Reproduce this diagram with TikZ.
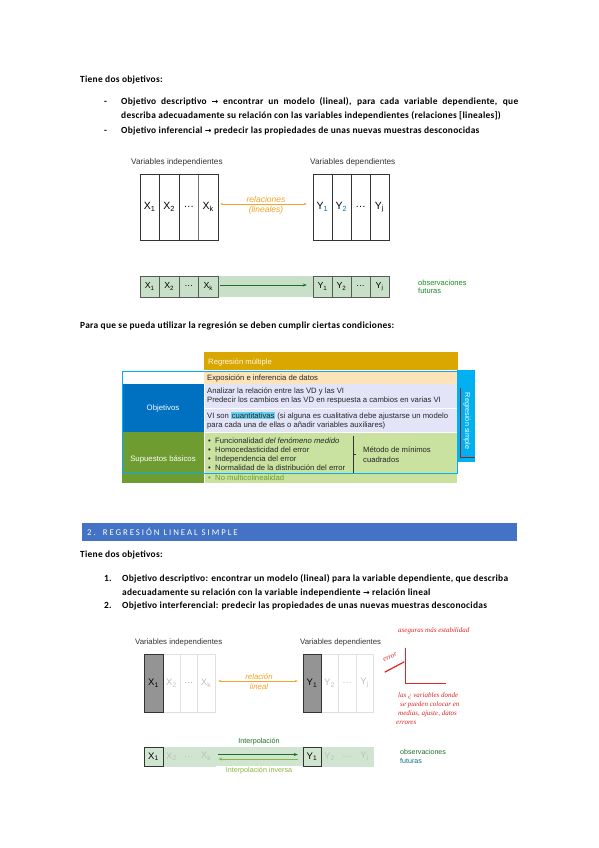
\documentclass[tikz,border=0pt]{standalone}
\usepackage{fontspec}
\setmainfont{Carlito}[LetterSpace=3]
\newfontfamily\arial{Liberation Sans}
\newfontfamily\symf{DejaVu Sans}
\newfontfamily\hand{Liberation Serif}
\newfontfamily\headf{Carlito}[LetterSpace=22]
\usetikzlibrary{arrows.meta}
\definecolor{orangeA}{RGB}{247,162,40}
\definecolor{gdark}{RGB}{30,110,40}
\definecolor{gband}{RGB}{200,224,200}
\definecolor{gband2}{RGB}{208,229,208}
\definecolor{gold}{RGB}{218,166,0}
\definecolor{peach}{RGB}{252,228,184}
\definecolor{tblue}{RGB}{0,112,192}
\definecolor{lav}{RGB}{228,228,248}
\definecolor{tgreen}{RGB}{110,156,48}
\definecolor{lgreen}{RGB}{201,226,160}
\definecolor{cyanA}{RGB}{0,176,240}
\definecolor{hl}{RGB}{100,210,240}
\definecolor{secblue}{RGB}{68,114,196}
\definecolor{redh}{RGB}{225,35,35}
\definecolor{olive}{RGB}{140,180,60}
\definecolor{darkred}{RGB}{150,30,40}
\newcommand{\arr}{{\symf\fontsize{8}{9}\selectfont →}}
\tikzset{
  body/.style={font=\fontsize{9.4}{11}\selectfont\bfseries, inner sep=0, anchor=base west},
  lab/.style={font=\arial\fontsize{8.2}{9}\selectfont, inner sep=0, anchor=base west, text=black!80},
  bigcell/.style={draw=black!80, minimum width=#1, minimum height=66pt, inner sep=0, font=\arial\fontsize{10.5}{12}\selectfont},
  bigcell/.default=19.5pt,
  smallcell/.style={draw=black!65, fill=gband, minimum width=#1, minimum height=21pt, inner sep=0, font=\arial\fontsize{8.8}{10}\selectfont},
  smallcell/.default=19.5pt,
  cellB/.style={draw=black!80, minimum width=#1, minimum height=58pt, inner sep=0, font=\arial\fontsize{9.5}{11}\selectfont},
  faintB/.style={draw=black!12, text=black!25, minimum width=#1, minimum height=58pt, inner sep=0, font=\arial\fontsize{9.5}{11}\selectfont},
  cellC/.style={draw=black!80, fill=gband2, minimum width=#1, minimum height=19pt, inner sep=0, font=\arial\fontsize{9.5}{11}\selectfont},
  faintC/.style={draw=gdark!20, fill=gband2, text=black!25, minimum width=#1, minimum height=19pt, inner sep=0, font=\arial\fontsize{9.5}{11}\selectfont},
  tb/.style={font=\arial\fontsize{7.7}{9}\selectfont, inner sep=0, anchor=base west, text=black!85},
  small/.style={font=\arial\fontsize{7.8}{9}\selectfont, inner sep=0},
  handw/.style={font=\hand\itshape\fontsize{7}{8}\selectfont, text=redh, inner sep=0, anchor=base west},
}
\begin{document}
\begin{tikzpicture}[x=1pt,y=-1pt]
\fill[white] (0,0) rectangle (599,848);
\useasboundingbox (0,0) rectangle (599,848);

% ---------- first text block
\node[body] (t1) at (80,83) {Tiene dos objetivos:};
\node[body] (d1) at (104,105) {-};
\node[body] (l1) at (121,105) {\makebox[397pt][s]{Objetivo descriptivo \arr\ encontrar un modelo (lineal), para cada variable dependiente, que}};
\node[body] (l2) at (121,119) {describa adecuadamente su relación con las variables independientes (relaciones [lineales])};
\node[body] (d2) at (104,134) {-};
\node[body] (l3) at (121,134) {Objetivo inferencial \arr\ predecir las propiedades de unas nuevas muestras desconocidas};

% ---------- diagram 1
\node[lab] (vi1) at (131,164) {Variables independientes};
\node[lab] (vd1) at (310,164) {Variables dependientes};
\node[bigcell, draw=black!30] (a3) at (188.75,207) {\dots};
\node[bigcell] (a1) at (149.75,207) {X\textsubscript{1}};
\node[bigcell] (a2) at (169.25,207) {X\textsubscript{2}};
\node[bigcell, draw=black!55] (a4) at (208.25,207) {X\textsubscript{k}};
\draw[black!80] (a1.north west) rectangle (a4.south east);
\node[bigcell=19pt, draw=black!40] (b3) at (360.5,207) {\dots};
\node[bigcell=19pt] (b1) at (322.5,207) {Y\textsubscript{\color{tblue}1}};
\node[bigcell=19pt] (b2) at (341.5,207) {Y\textsubscript{\color{tblue}2}};
\node[bigcell=19pt] (b4) at (379.5,207) {Y\textsubscript{j}};
\draw[black!80] (b1.north west) rectangle (b4.south east);
\draw[{Stealth[length=3pt]}-{Stealth[length=3pt]}, orangeA, line width=0.6, shorten <=2pt, shorten >=6pt] ([yshift=3pt]a4.east) -- ([yshift=3pt]b1.west);
\node[small, text=orangeA, font=\arial\itshape\fontsize{8.5}{9}\selectfont] (rel1) at (266,199) {relaciones};
\node[small, text=orangeA, font=\arial\itshape\fontsize{8.5}{9}\selectfont] (rel2) at (266,210) {(lineales)};

% row 2
\fill[gband] (218,276) rectangle (313,297);
\node[smallcell] (c1) at (149.75,286.5) {X\textsubscript{1}};
\node[smallcell] (c2) at (169.25,286.5) {X\textsubscript{2}};
\node[smallcell] (c3) at (188.75,286.5) {\dots};
\node[smallcell] (c4) at (208.25,286.5) {X\textsubscript{k}};
\node[smallcell=19pt] (e1) at (322.5,286.5) {Y\textsubscript{1}};
\node[smallcell=19pt] (e2) at (341.5,286.5) {Y\textsubscript{2}};
\node[smallcell=19pt] (e3) at (360.5,286.5) {\dots};
\node[smallcell=19pt] (e4) at (379.5,286.5) {Y\textsubscript{j}};
\draw[-{Stealth[length=4pt]}, gdark, line width=0.6, shorten <=2pt, shorten >=6pt] ([yshift=1.5pt]c4.east) -- ([yshift=1.5pt]e1.west);
\node[small, anchor=base west, text=gdark!80!green, font=\arial\fontsize{7.5}{8}\selectfont] (obs1) at (418,285) {observaciones};
\node[small, anchor=base west, text=gdark!80!green, font=\arial\fontsize{7.5}{8}\selectfont] (fut1) at (418,293.5) {futuras};

% ---------- condiciones
\node[body] (p1) at (80,328) {Para que se pueda utilizar la regresión se deben cumplir ciertas condiciones:};

% ---------- table
\fill[gold] (204,352) rectangle (458,370);
\node[tb, text=white!92!gold] (rm) at (208,364) {Regresión múltiple};
\fill[cyanA] (457,370) rectangle (475,462);
\draw[darkred, line width=0.5] (460,388) -- (460,457) -- (475,457);
\node[small, rotate=-90, text=white, font=\arial\fontsize{7.3}{8}\selectfont] (rs) at (467,421) {Regresión simple};
\fill[peach] (204,371) rectangle (457,384);
\node[tb] (ex) at (207,380.5) {Exposición e inferencia de datos};
\fill[tblue] (122,384) rectangle (204,432);
\node[small, text=white] (obj) at (163,408) {Objetivos};
\fill[lav] (204,384) rectangle (457,432);
\draw[white, line width=0.8] (204,408) -- (457,408);
\node[tb] (o1) at (207,393.5) {Analizar la relación entre las VD y las VI};
\node[tb] (o2) at (207,402.5) {Predecir los cambios en las VD en respuesta a cambios en varias VI};
\node[tb] (o3) at (207,418.5) {VI son {\setlength{\fboxsep}{0.6pt}\colorbox{hl}{cuantitativas}} (si alguna es cualitativa debe ajustarse un modelo};
\node[tb] (o4) at (207,427.5) {para cada una de ellas o añadir variables auxiliares)};
\fill[tgreen] (122,432) rectangle (204,483);
\node[small, text=white] (sb) at (163,459) {Supuestos básicos};
\fill[lgreen] (204,432) rectangle (457,483);
\draw[white, line width=0.8] (204,384) -- (204,483);
\draw[white, line width=0.8] (204,432) -- (457,432);
\foreach \yy/\tt in {443.5/{Funcionalidad \textit{del fenómeno medido}},452.5/{Homocedasticidad del error},461.5/{Independencia del error},470.5/{Normalidad de la distribución del error}}{
  \node[tb] at (208,\yy) {•};
  \node[tb] at (215,\yy) {\tt};
}
\node[tb, text=tgreen] (nb) at (208,480) {•};
\node[tb, text=tgreen] (nm) at (215,480) {No multicolinealidad};
\draw[black!80, line width=0.6] (353,436) -- (353,473);
\draw[black!80, line width=0.6] (353,454) -- (356,454);
\node[tb] (mm1) at (363,452.5) {Método de mínimos};
\node[tb] (mm2) at (363,462) {cuadrados};
\draw[cyanA, line width=0.9] (122,371) rectangle (457,473);

% ---------- section header
\fill[secblue] (82,523) rectangle (517,541);
\node[inner sep=0, anchor=base west, text=white, font=\headf\fontsize{8.8}{10}\selectfont] (sec) at (87,535.5) {2.\hspace{7pt}REGRESIÓN LINEAL SIMPLE};

\node[body] (t2) at (80,557) {Tiene dos objetivos:};
\node[body] (n1) at (104,581) {1.};
\node[body] (m1) at (122,581) {Objetivo descriptivo: encontrar un modelo (lineal) para la variable dependiente, que describa};
\node[body] (m2) at (122,595) {adecuadamente su relación con la variable independiente \arr\ relación lineal};
\node[body] (n2) at (104,608) {2.};
\node[body] (m3) at (122,608) {Objetivo interferencial: predecir las propiedades de unas nuevas muestras desconocidas};

% ---------- diagram 2
\node[lab, font=\arial\fontsize{7.8}{9}\selectfont] (vi2) at (135,644) {Variables independientes};
\node[lab, font=\arial\fontsize{7.8}{9}\selectfont] (vd2) at (300,644) {Variables dependientes};
\node[faintB=17pt] (g2) at (171.5,683) {X\textsubscript{2}};
\node[faintB=17pt] (g3) at (188.5,683) {\dots};
\node[faintB=18pt] (g4) at (206,683) {X\textsubscript{k}};
\node[cellB=19pt, fill=black!42] (g1) at (153.5,683) {X\textsubscript{1}};
\node[faintB=17pt] (h2) at (329.5,683) {Y\textsubscript{2}};
\node[faintB=18pt] (h3) at (347,683) {\dots};
\node[faintB=17pt] (h4) at (364.5,683) {Y\textsubscript{j}};
\node[cellB=18pt, fill=black!42] (h1) at (312,683) {Y\textsubscript{1}};
\draw[{Stealth[length=3pt]}-{Stealth[length=3pt]}, orangeA, line width=0.6, shorten <=3pt, shorten >=5pt] ([yshift=2pt]g4.east) -- ([yshift=2pt]h1.west);
\node[small, text=orangeA, font=\arial\itshape\fontsize{7.8}{8}\selectfont] (rl1) at (259,677) {relación};
\node[small, text=orangeA, font=\arial\itshape\fontsize{7.8}{8}\selectfont] (rl2) at (259,687) {lineal};

\fill[gband2] (144,747) rectangle (373,766);
\node[faintC=17pt] (k2) at (171.5,756.5) {X\textsubscript{2}};
\node[faintC=17pt] (k3) at (188.5,756.5) {\dots};
\node[faintC=18pt] (k4) at (206,756.5) {X\textsubscript{k}};
\node[cellC=19pt] (k1) at (153.5,756.5) {X\textsubscript{1}};
\node[faintC=17pt] (q2) at (329.5,756.5) {Y\textsubscript{2}};
\node[faintC=18pt] (q3) at (347,756.5) {\dots};
\node[faintC=17pt] (q4) at (364.5,756.5) {Y\textsubscript{j}};
\node[cellC=18pt] (q1) at (312,756.5) {Y\textsubscript{1}};
\draw[-{Stealth[length=4pt]}, gdark, line width=0.7, shorten <=3pt, shorten >=5pt] ([yshift=2pt]k4.east) -- ([yshift=2pt]q1.west);
\draw[-{Stealth[length=4pt]}, olive, line width=0.7, shorten <=5pt, shorten >=3pt] ([yshift=-2.5pt]q1.west) -- ([yshift=-2.5pt]k4.east);
\node[small, text=gdark, font=\arial\fontsize{7.2}{8}\selectfont] (ip) at (259,742) {Interpolación};
\node[small, text=olive, font=\arial\fontsize{7.2}{8}\selectfont] (ipi) at (259,771) {Interpolación inversa};
\node[small, anchor=base west, text=gdark, font=\arial\fontsize{7.1}{8}\selectfont] (obs2) at (400,754.5) {observaciones};
\node[small, anchor=base west, text=tblue!60!gdark, font=\arial\fontsize{7.1}{8}\selectfont] (fut2) at (400,763) {futuras};

% ---------- handwritten notes
\node[handw] (hn1) at (398,632) {aseguras más estabilidad};
\draw[redh, line width=0.5] (405,648) -- (405,683) -- (446,683);
\node[handw, rotate=25] (hn2) at (384,662) {error};
\draw[redh, line width=1.2, line cap=round] (385,672) -- (404,662);
\node[handw] (hn3) at (398,697) {las ¿ variables donde};
\node[handw] (hn4) at (400,706) {se pueden colocar en};
\node[handw] (hn5) at (398,715) {medias, ajuste, datos};
\node[handw] (hn6) at (396,724) {errores};
\end{tikzpicture}
\end{document}
